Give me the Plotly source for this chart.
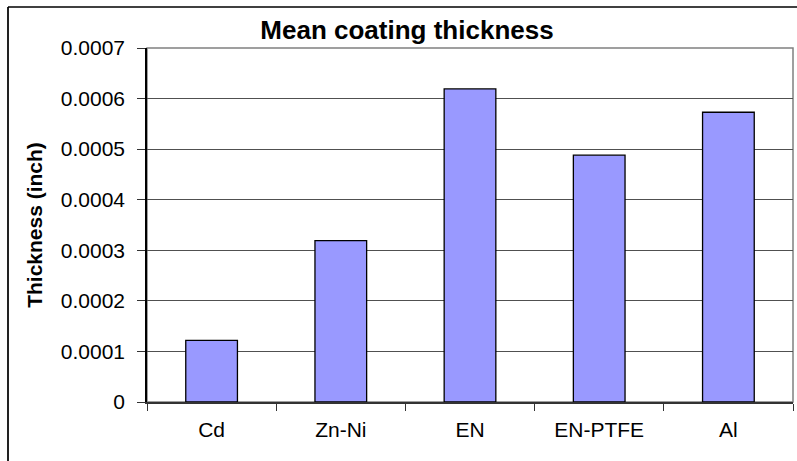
import plotly.graph_objects as go

categories = ["Cd", "Zn-Ni", "EN", "EN-PTFE", "Al"]
thickness = [0.000122, 0.000319, 0.000619, 0.000488, 0.000573]
y_tick_vals = [0, 0.0001, 0.0002, 0.0003, 0.0004, 0.0005, 0.0006, 0.0007]
y_tick_text = ["0", "0.0001", "0.0002", "0.0003", "0.0004", "0.0005", "0.0006", "0.0007"]

W, H = 797, 461
L, R, T, B = 147, 4, 48, 59
pw = W - L - R
ph = H - T - B

font = "Liberation Sans, Arial, sans-serif"

fig = go.Figure(
    go.Bar(
        x=categories,
        y=thickness,
        width=0.4,
        marker=dict(color="#9999FF", line=dict(color="#000000", width=1.3)),
    )
)

fig.update_layout(
    width=W,
    height=H,
    margin=dict(l=L, r=R, t=T, b=B, pad=0),
    paper_bgcolor="white",
    plot_bgcolor="white",
    showlegend=False,
    font=dict(family=font, color="black", size=21),
    title=dict(
        text="<b>Mean coating thickness</b>",
        x=407 / W,
        xanchor="center",
        y=1 - 30 / H,
        yanchor="middle",
        font=dict(size=26, family=font, color="black"),
    ),
)

fig.update_xaxes(
    type="category",
    showgrid=False,
    showline=True,
    linecolor="#333333",
    linewidth=1.5,
    ticks="outside",
    tickson="boundaries",
    ticklen=7,
    tickcolor="#333333",
    tickwidth=1,
    tickfont=dict(size=21, family=font, color="black"),
    ticklabelstandoff=8,
    zeroline=False,
)

fig.update_yaxes(
    range=[0, 0.0007],
    tickvals=y_tick_vals,
    ticktext=y_tick_text,
    showgrid=True,
    gridcolor="#505050",
    gridwidth=1,
    showline=True,
    linecolor="#000000",
    linewidth=1.5,
    ticks="outside",
    ticklen=8,
    tickcolor="#333333",
    tickwidth=1,
    tickfont=dict(size=21, family=font, color="black"),
    ticklabelstandoff=8,
    zeroline=False,
    title=dict(
        text="<b>Thickness (inch)</b>",
        font=dict(size=21, family=font, color="black"),
        standoff=12,
    ),
)

# plot-area border (top and right, gray)
fig.add_shape(
    type="rect", xref="paper", yref="paper", x0=0, x1=1, y0=0, y1=1,
    line=dict(color="#808080", width=1.5), layer="between",
)

# outer chart border (left and top visible, continuing past the window)
x_left = (8 - L) / pw
y_top = (H - B - 7) / ph
fig.add_shape(
    type="line", xref="paper", yref="paper", x0=x_left, x1=x_left,
    y0=y_top, y1=-(B + 5) / ph, line=dict(color="#222222", width=2),
)
fig.add_shape(
    type="line", xref="paper", yref="paper", x0=x_left, x1=(W - L + 5) / pw,
    y0=y_top, y1=y_top, line=dict(color="#000000", width=1.5),
)

fig.write_html("out.html")
